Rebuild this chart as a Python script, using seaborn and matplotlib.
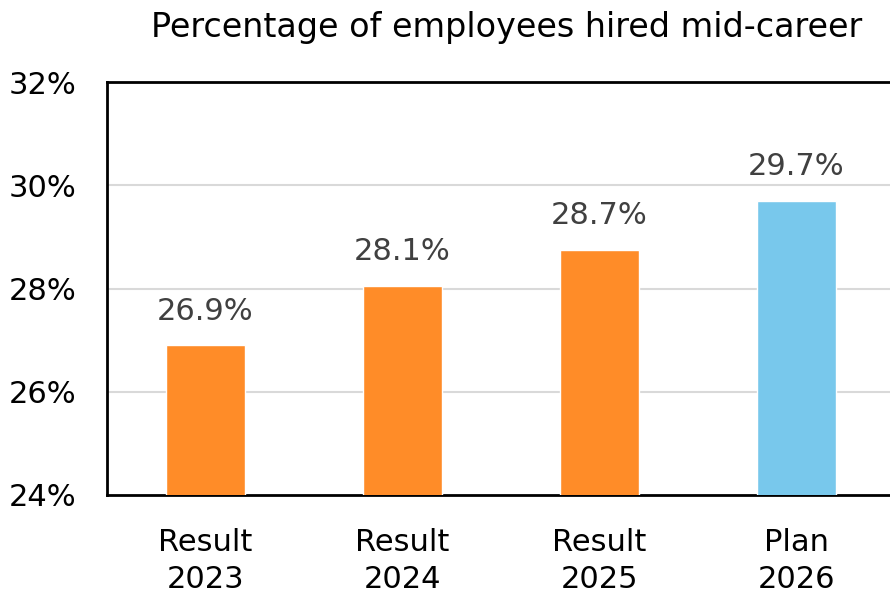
import numpy as np
import pandas as pd
import seaborn as sns
from matplotlib import pyplot as plt

categories = ["Result\n2023", "Result\n2024", "Result\n2025", "Plan\n2026"]
values = [26.9, 28.05, 28.75, 29.7]
labels = ["26.9%", "28.1%", "28.7%", "29.7%"]
bar_colors = ["#FF8C28", "#FF8C28", "#FF8C28", "#78C8EC"]

df = pd.DataFrame({"category": categories, "value": values})

sns.set_style("white")
plt.rcParams["font.family"] = ["DejaVu Sans"]

fig = plt.figure(figsize=(8.9, 5.94), dpi=100)
ax = fig.add_axes([107 / 890, 99 / 594, 788 / 890, 413 / 594])

sns.barplot(data=df, x="category", y="value", hue="category",
            palette=bar_colors, width=0.4, legend=False, ax=ax,
            saturation=1, zorder=3)

ax.set_ylim(24, 32)
ax.set_yticks([24, 26, 28, 30, 32])
ax.set_yticklabels(["24%", "26%", "28%", "30%", "32%"], fontsize=22)
ax.tick_params(axis="x", labelsize=22, length=0, pad=24, colors="black")
ax.tick_params(axis="y", length=0, pad=22, colors="black")
for lab in ax.get_xticklabels():
    lab.set_linespacing(1.35)

for y in [26, 28, 30]:
    ax.axhline(y, color="#D9D9D9", lw=1.5, zorder=1)

for sp in ["left", "top", "bottom"]:
    ax.spines[sp].set_color("black")
    ax.spines[sp].set_linewidth(2)
ax.spines["right"].set_visible(False)

for i, (v, t) in enumerate(zip(values, labels)):
    ax.text(i, v + 0.38, t, ha="center", va="bottom", fontsize=22, color="#404040")

ax.set_xlabel("")
ax.set_ylabel("")
fig.text(0.569, 0.953, "Percentage of employees hired mid-career",
         ha="center", va="center", fontsize=24, color="black")

fig.savefig("out.png", dpi=100)
